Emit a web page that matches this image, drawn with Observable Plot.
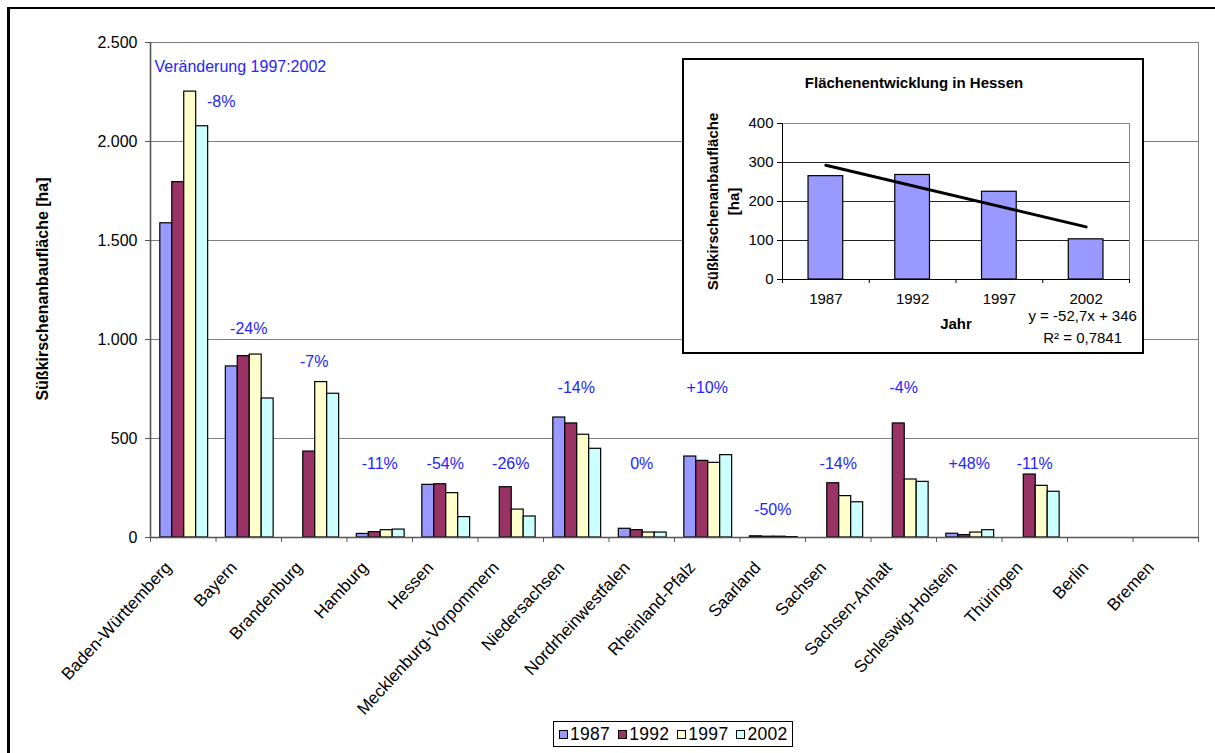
<!DOCTYPE html>
<html>
<head>
<meta charset="utf-8">
<script src="https://cdn.jsdelivr.net/npm/d3@7"></script>
<script src="https://cdn.jsdelivr.net/npm/@observablehq/plot@0.6"></script>
<style>
  html, body { margin: 0; padding: 0; background: #fff; overflow: hidden; }
  #wrap { position: relative; width: 1215px; height: 753px; font-family: Arial, "Liberation Sans", sans-serif; }
  #border { position: absolute; left: 7px; top: 7px; width: 1300px; height: 900px; border-left: 3px solid #000; border-top: 2px solid #000; }
  #main { position: absolute; left: 0; top: 0; }
  #inset { position: absolute; left: 682px; top: 58px; width: 462px; height: 296px; box-sizing: border-box; border: 2px solid #000; background: #fff; }
  #legend { position: absolute; left: 553px; top: 721px; height: 26px; box-sizing: border-box; border: 1px solid #000; background: #fff;
            display: flex; align-items: center; padding: 0 4px 0 5px; font-size: 17.5px; letter-spacing: 0.3px; }
  .item { display: flex; align-items: center; margin-right: 8px; }
  .item:last-child { margin-right: 0; }
  .sw { width: 7px; height: 7px; border: 1px solid #000; margin-right: 2px; }
</style>
</head>
<body>
<div id="wrap">
  <div id="border"></div>
  <div id="main"></div>
  <div id="inset"></div>
  <div id="legend"></div>
</div>
<script>
// ---------- data ----------
const states = ["Baden-Württemberg", "Bayern", "Brandenburg", "Hamburg", "Hessen", "Mecklenburg-Vorpommern",
  "Niedersachsen", "Nordrheinwestfalen", "Rheinland-Pfalz", "Saarland", "Sachsen", "Sachsen-Anhalt",
  "Schleswig-Holstein", "Thüringen", "Berlin", "Bremen"];
const years = ["1987", "1992", "1997", "2002"];
const v1987 = [1587, 864, null, 18, 266, null, 606, 44, 409, 6, null, null, 19, null, null, null];
const v1992 = [1795, 916, 434, 27, 269, 254, 576, 37, 387, 4, 274, 576, 12, 318, null, null];
const v1997 = [2252, 924, 785, 37, 224, 141, 519, 25, 377, 4, 209, 293, 25, 261, null, null];
const v2002 = [2077, 702, 726, 40, 103, 106, 448, 25, 416, 2, 178, 281, 37, 231, null, null];
const yearColors = ["#9999FF", "#993366", "#FFFFCC", "#CCFFFF"];
const yTicks = [0, 500, 1000, 1500, 2000, 2500];
const changeLabels = ["-8%", "-24%", "-7%", "-11%", "-54%", "-26%", "-14%", "0%", "+10%", "-50%", "-14%", "-4%", "+48%", "-11%", "", ""];
const changeLabelY = [2202, 1056, 889, 374, 374, 374, 758, 374, 758, 141, 374, 758, 374, 374, null, null];
const noteText = "Veränderung 1997:2002";
const noteY = 2379;

const hessenYears = ["1987", "1992", "1997", "2002"];
const hessenValues = [265, 268, 225, 103];
const hessenTicks = [0, 100, 200, 300, 400];
const trendYears = ["1987", "2002"];
const trendValues = [293, 135];
const trendEquation = "y = -52,7x + 346";
const trendR2 = "R² = 0,7841";

// ---------- build ----------
const font = 'Arial, "Liberation Sans", sans-serif';
const blue = "#2424ff";
const series = [v1987, v1992, v1997, v2002];
const rows = states.flatMap((s, i) => years.map((y, k) => ({state: s, i, year: y, k, value: series[k][i]})))
  .filter(d => d.value != null);
const labels = states.map((s, i) => ({i, t: changeLabels[i], y: changeLabelY[i]})).filter(d => d.y != null);
const fmtDE = d3.formatLocale({decimal: ",", thousands: ".", grouping: [3], currency: ["", "€"]}).format(",.0f");

const groupPad = 0.15, barW = 0.1825;

const main = Plot.plot({
  width: 1215, height: 753,
  marginLeft: 150, marginRight: 17, marginTop: 42, marginBottom: 216,
  style: {fontFamily: font, fontSize: "16px", background: "transparent", color: "#000"},
  x: {domain: [0, states.length], axis: null},
  y: {domain: [0, 2500], axis: null},
  color: {domain: years, range: yearColors},
  marks: [
    Plot.gridY(yTicks.filter(t => t > 0), {stroke: "#808080", strokeOpacity: 1}),
    Plot.frame({stroke: "#808080"}),
    Plot.rectY(rows, {
      x1: d => d.i + groupPad + d.k * barW,
      x2: d => d.i + groupPad + (d.k + 1) * barW,
      y: "value", fill: "year", stroke: "#000", strokeWidth: 1.2
    }),
    Plot.ruleX([0], {stroke: "#555", strokeWidth: 1.6}),
    Plot.ruleY([0], {stroke: "#555", strokeWidth: 1.6}),
    Plot.axisY(yTicks, {anchor: "left", tickSize: 5, tickPadding: 8, tickFormat: fmtDE, fontSize: 16, label: null, stroke: "#555"}),
    Plot.axisX(d3.range(states.length + 1), {anchor: "bottom", tickSize: 5, tickFormat: () => "", label: null, stroke: "#555"}),
    Plot.axisX(d3.range(states.length).map(i => i + 0.5), {
      anchor: "bottom", tickSize: 0, tickPadding: 27, tickRotate: -47.5, dx: -15,
      tickFormat: v => states[Math.floor(v)], fontSize: 17, label: null
    }),
    Plot.text(labels.filter(d => d.i === 0), {x: d => d.i + 0.5, y: "y", text: "t", dx: 38, fill: blue, fontSize: 16}),
    Plot.text(labels.filter(d => d.i > 0), {x: d => d.i + 0.5, y: "y", text: "t", fill: blue, fontSize: 16}),
    Plot.text([noteText], {x: 0, y: noteY, text: d => d, textAnchor: "start", dx: 4, fill: blue, fontSize: 16}),
    Plot.text(["Süßkirschenanbaufläche [ha]"], {text: d => d, frameAnchor: "left", textAnchor: "middle", rotate: -90, dx: -108, dy: -1, fontWeight: "bold", fontSize: 16})
  ]
});
document.getElementById("main").appendChild(main);

// ---------- inset ----------
const hRows = hessenYears.map((y, i) => ({i, year: y, value: hessenValues[i]}));
const tRows = trendYears.map((y, j) => ({x: hessenYears.indexOf(y) + 0.5, y: trendValues[j]}));
const inset = Plot.plot({
  width: 458, height: 292,
  marginLeft: 98, marginRight: 13, marginTop: 63, marginBottom: 73,
  style: {fontFamily: font, fontSize: "15px", background: "transparent", color: "#000"},
  x: {domain: [0, hessenYears.length], axis: null},
  y: {domain: [0, 400], axis: null},
  marks: [
    Plot.gridY([100, 200, 300], {stroke: "#222", strokeOpacity: 1}),
    Plot.frame({stroke: "#888"}),
    Plot.rectY(hRows, {x1: d => d.i + 0.3, x2: d => d.i + 0.7, y: "value", fill: "#9999FF", stroke: "#000", strokeWidth: 1.2}),
    Plot.ruleX([0], {stroke: "#000"}),
    Plot.ruleY([0], {stroke: "#000"}),
    Plot.axisY(hessenTicks, {anchor: "left", tickSize: 5, tickPadding: 4, fontSize: 15, label: null}),
    Plot.axisX(d3.range(hessenYears.length + 1), {anchor: "bottom", tickSize: 4, tickFormat: () => "", label: null}),
    Plot.axisX(hessenYears.map((y, i) => i + 0.5), {anchor: "bottom", tickSize: 0, tickPadding: 14,
      tickFormat: v => hessenYears[Math.floor(v)], fontSize: 15, label: null}),
    Plot.line(tRows, {x: "x", y: "y", stroke: "#000", strokeWidth: 3}),
    Plot.text(["Flächenentwicklung in Hessen"], {text: d => d, frameAnchor: "top", dx: -42, dy: -46, fontWeight: "bold", fontSize: 15}),
    Plot.text(["Süßkirschenanbaufläche\n[ha]"], {text: d => d, frameAnchor: "left", textAnchor: "middle", rotate: -90, dx: -61, fontWeight: "bold", fontSize: 15, lineHeight: 1.45}),
    Plot.text(["Jahr"], {text: d => d, frameAnchor: "bottom", dy: 49, fontWeight: "bold", fontSize: 15}),
    Plot.text([trendEquation], {text: d => d, x: 3.46, frameAnchor: "bottom", dy: 41, fontSize: 15}),
    Plot.text([trendR2], {text: d => d, x: 3.46, frameAnchor: "bottom", dy: 63, fontSize: 15})
  ]
});
document.getElementById("inset").appendChild(inset);

// ---------- legend ----------
const legend = document.getElementById("legend");
years.forEach((y, k) => {
  const it = document.createElement("div");
  it.className = "item";
  const sw = document.createElement("div");
  sw.className = "sw";
  sw.style.background = yearColors[k];
  const tx = document.createElement("span");
  tx.textContent = y;
  it.appendChild(sw); it.appendChild(tx);
  legend.appendChild(it);
});
</script>
</body>
</html>
